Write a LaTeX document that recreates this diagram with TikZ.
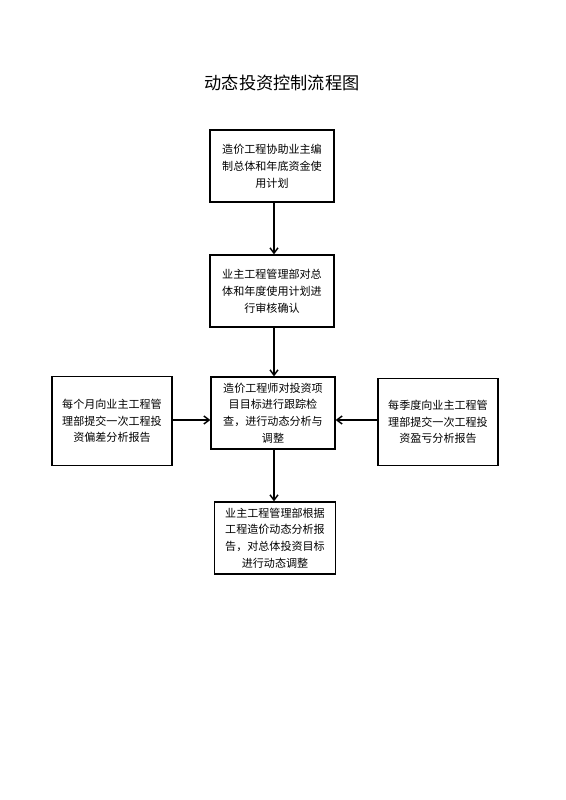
\documentclass[tikz,border=0pt]{standalone}
\usepackage{fontspec}
\setmainfont{Noto Sans CJK SC}
\usetikzlibrary{arrows.meta,positioning}
\tikzset{
  flowbox/.style={draw,line width=0.9pt,minimum width=93pt,minimum height=54pt,
    align=center,font=\fontsize{8.3}{12.6}\selectfont,inner sep=2pt},
  flowarrow/.style={-{Straight Barb[length=4pt,width=6pt]},line width=1.1pt}
}
\begin{document}
\begin{tikzpicture}[x=0.75pt,y=-0.75pt]
  \useasboundingbox (0,0) rectangle (566,800);
  \node[font=\fontsize{12.9}{16}\selectfont] (title) at (282,83) {动态投资控制流程图};
  % 中间一列
  \node[flowbox] (plan) at (272,166) {造价工程协助业主编\\制总体和年底资金使\\用计划};
  \node[flowbox] (audit) at (272,291) {业主工程管理部对总\\体和年度使用计划进\\行审核确认};
  \node[flowbox] (track) at (273,413) {造价工程师对投资项\\目目标进行跟踪检\\查，进行动态分析与\\调整};
  \node[flowbox,minimum width=91pt] (adjust) at (275,538) {业主工程管理部根据\\工程造价动态分析报\\告，对总体投资目标\\进行动态调整};
  % 两侧报告
  \node[flowbox,minimum width=90pt,minimum height=67pt] (monthly) at (112,421) {每个月向业主工程管\\理部提交一次工程投\\资偏差分析报告};
  \node[flowbox,minimum width=90pt,minimum height=65pt] (quarterly) at (438,422) {每季度向业主工程管\\理部提交一次工程投\\资盈亏分析报告};
  \draw[flowarrow] (plan.south -| 274,0) -- (audit.north -| 274,0);
  \draw[flowarrow] (audit.south -| 274,0) -- (track.north -| 274,0);
  \draw[flowarrow] (track.south -| 274,0) -- (adjust.north -| 274,0);
  \draw[flowarrow] (monthly.east |- 0,420) -- (track.west |- 0,420);
  \draw[flowarrow] (quarterly.west |- 0,420) -- (track.east |- 0,420);
\end{tikzpicture}
\end{document}
